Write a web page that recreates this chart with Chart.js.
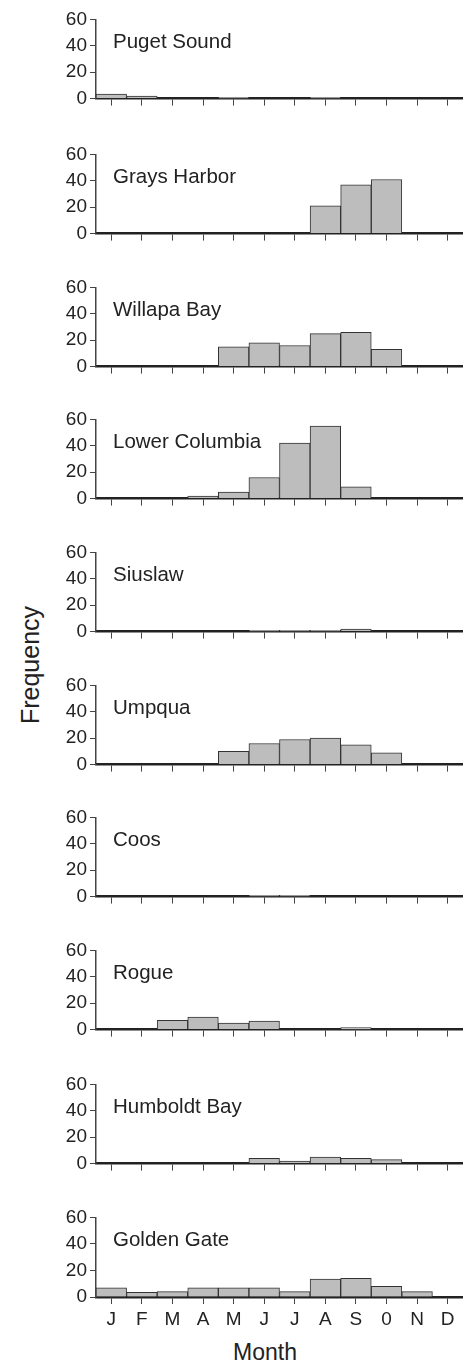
<!DOCTYPE html>
<html>
<head>
<meta charset="utf-8">
<script src="https://cdn.jsdelivr.net/npm/chart.js@4"></script>
<style>
  body { margin: 0; background: #fff; }
  #wrap { position: relative; width: 463px; height: 1363px; overflow: hidden; font-family: "Liberation Sans", Arial, sans-serif; color: #222; }
  .panel { position: absolute; left: 0; width: 463px; }
  #ylab { position: absolute; left: 30px; top: 665px; transform: translate(-50%, -50%) rotate(-90deg); font-size: 25px; white-space: nowrap; }
  #xlab { position: absolute; left: 265px; top: 1352px; transform: translate(-50%, -50%); font-size: 23px; }
</style>
</head>
<body>
<div id="wrap">
  <div id="ylab">Frequency</div>
  <div id="xlab">Month</div>
</div>
<script>
// monthly frequency per estuary
const months = ['J', 'F', 'M', 'A', 'M', 'J', 'J', 'A', 'S', '0', 'N', 'D']
const yTicks = [0, 20, 40, 60]

const estuaries = ['Puget Sound', 'Grays Harbor', 'Willapa Bay', 'Lower Columbia', 'Siuslaw',
                   'Umpqua', 'Coos', 'Rogue', 'Humboldt Bay', 'Golden Gate']

const pugetSound    = [3.5, 2, 0, 0, 1, 0, 0, 1, 0, 0, 0, 0]
const graysHarbor   = [0, 0, 0, 0, 0, 0, 0, 21, 37, 41, 0, 0]
const willapaBay    = [0, 0, 0, 0, 15, 18, 16, 25, 26, 13, 0, 0]
const lowerColumbia = [0, 0, 0, 2, 5, 16, 42, 55, 9, 0, 0, 0]
const siuslaw       = [0, 0, 0, 0, 0, 1, 1, 1, 2, 0, 0, 0]
const umpqua        = [0, 0, 0, 0, 10, 16, 19, 20, 15, 9, 0, 0]
const coos          = [0, 0, 0, 0, 0, 1, 1, 0, 0, 0, 0, 0]
const rogue         = [0, 0, 7, 9.5, 5, 6.5, 0, 0, 1.5, 0, 0, 0]
const humboldtBay   = [0, 0, 0, 0, 0, 4, 2, 5, 4, 3, 0, 0]
const goldenGate    = [7, 3.5, 4, 7, 7, 7, 4, 13.5, 14, 8, 4, 0]

const series = [pugetSound, graysHarbor, willapaBay, lowerColumbia, siuslaw,
                umpqua, coos, rogue, humboldtBay, goldenGate]

// top of each plot (where 60 sits)
const panelTops = [17, 152, 285, 417, 550, 683, 815, 948, 1082, 1215]

const padTop = 12
const plotH = 82

const panelLabel = {
    id: 'panelLabel',
    afterDraw(chart, args, opts) {
        const ctx = chart.ctx
        ctx.save()
        ctx.font = '20.5px "Liberation Sans", Arial, sans-serif'
        ctx.fillStyle = '#222'
        ctx.textBaseline = 'alphabetic'
        ctx.fillText(opts.text, chart.chartArea.left + 17, chart.chartArea.top + 29)
        ctx.restore()
    }
}

function makePanel(i) {
    let last = i === estuaries.length - 1
    let xH = last ? 45 : 14
    let div = document.createElement('div')
    div.className = 'panel'
    div.style.top = (panelTops[i] - padTop) + 'px'
    div.style.height = (padTop + plotH + xH) + 'px'
    let canvas = document.createElement('canvas')
    div.appendChild(canvas)
    document.getElementById('wrap').appendChild(div)

    new Chart(canvas, {
        type: 'bar',
        data: {
            labels: months,
            datasets: [{
                data: series[i],
                backgroundColor: '#bdbdbd',
                borderColor: '#333',
                borderWidth: 1,
                categoryPercentage: 1,
                barPercentage: 1
            }]
        },
        plugins: [panelLabel],
        options: {
            responsive: true,
            maintainAspectRatio: false,
            animation: false,
            layout: { padding: { top: padTop, left: 0, right: 0, bottom: 0 } },
            plugins: {
                legend: { display: false },
                tooltip: { enabled: false },
                panelLabel: { text: estuaries[i] }
            },
            scales: {
                x: {
                    grid: { offset: false, drawOnChartArea: false, drawTicks: true, tickLength: 7, color: '#444', lineWidth: 1 },
                    border: { display: true, color: '#222', width: 2.5 },
                    ticks: {
                        display: last,
                        color: '#222',
                        padding: 4,
                        maxRotation: 0,
                        autoSkip: false,
                        font: { family: '"Liberation Sans", Arial, sans-serif', size: 19 }
                    },
                    afterFit(axis) { axis.height = xH }
                },
                y: {
                    min: 0,
                    max: 60,
                    afterBuildTicks(axis) { axis.ticks = yTicks.map(v => ({ value: v })) },
                    grid: { drawOnChartArea: false, drawTicks: true, tickLength: 6, color: '#444', lineWidth: 1 },
                    border: { display: true, color: '#444', width: 1.5 },
                    ticks: {
                        color: '#222',
                        padding: 3,
                        font: { family: '"Liberation Sans", Arial, sans-serif', size: 19 }
                    },
                    afterFit(axis) { axis.width = 96 }
                }
            }
        }
    })
}

for (let i = 0; i < estuaries.length; i++) makePanel(i)
</script>
</body>
</html>
